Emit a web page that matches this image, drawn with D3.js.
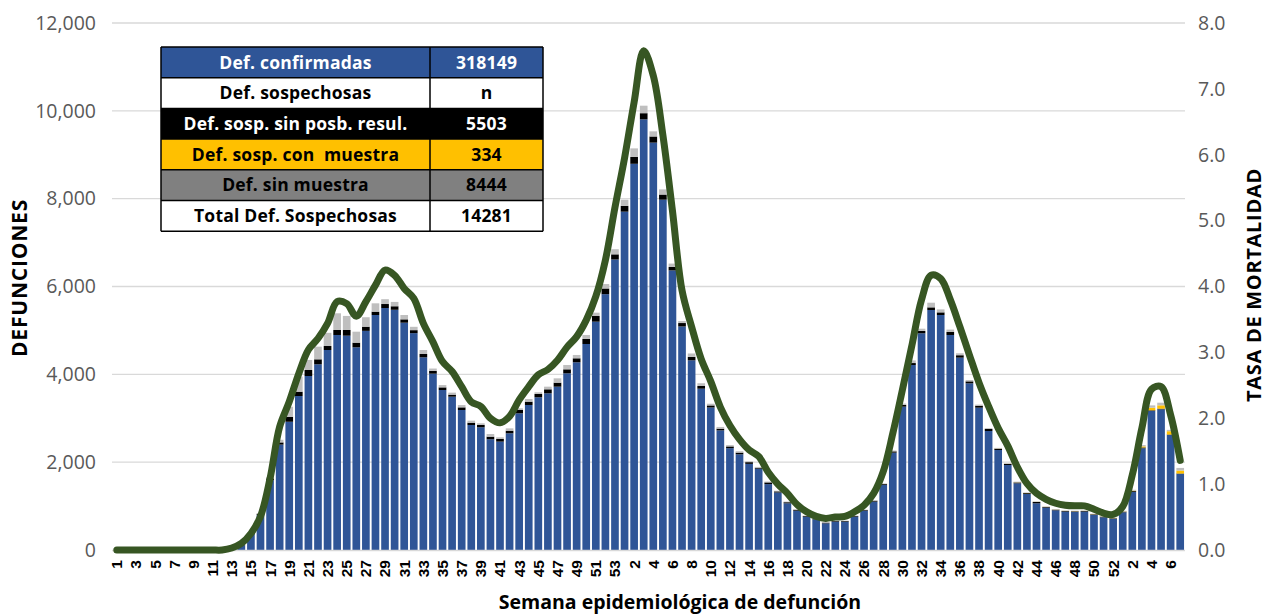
<!DOCTYPE html>
<html><head><meta charset="utf-8">
<script src="https://cdn.jsdelivr.net/npm/d3@7/dist/d3.min.js"></script>
<style>
body{margin:0;background:#fff;}
svg{display:block;font-family:'Open Sans','Noto Sans',sans-serif;}
</style>
</head><body>
<svg id="chart" width="1268" height="614"></svg>
<script>
// ---- DATA ----
const weekLabels = [
 1,2,3,4,5,6,7,8,9,10,11,12,13,14,15,16,17,18,19,20,21,22,23,24,25,26,27,28,29,30,31,32,33,34,35,36,37,38,39,40,41,42,43,44,45,46,47,48,49,50,51,52,53,
 1,2,3,4,5,6,7,8,9,10,11,12,13,14,15,16,17,18,19,20,21,22,23,24,25,26,27,28,29,30,31,32,33,34,35,36,37,38,39,40,41,42,43,44,45,46,47,48,49,50,51,52,
 1,2,3,4,5,6,7];

const confirmadas = [
 0,0,0,0,0,0,0,0,0,0,0,0,20,110,380,800,1590,2400,2920,3506,3962,4228,4554,4896,4880,4615,4990,5351,5510,5470,5176,4938,4387,4015,3643,3491,3188,2846,2794,2521,2468,2657,3112,3302,3477,3568,3719,4023,4274,4691,5199,5825,6615,
 7704,8794,9806,9276,7977,6366,5090,4319,3673,3245,2724,2319,2179,1961,1852,1500,1310,1063,895,759,698,607,645,645,759,895,1101,1480,2216,3264,4212,4934,5465,5351,4896,4380,3795,3241,2710,2277,1935,1518,1275,1063,964,903,873,865,873,797,744,706,
 858,1321,2315,3165,3203,2619,1731];

const sinPosibResultado = [
 0,0,0,0,0,0,0,0,0,0,0,0,0,5,10,20,40,50,114,99,137,114,91,114,130,106,95,76,91,80,76,68,76,62,60,46,60,53,53,60,60,60,76,76,76,91,91,91,91,114,129,130,117,
 132,156,140,140,117,78,78,78,62,47,39,39,39,39,20,39,25,25,20,15,15,15,15,15,15,15,20,20,30,40,45,55,60,60,70,55,45,45,45,30,25,20,20,30,15,15,15,15,15,15,15,15,
 15,20,20,15,15,10,10];

const conMuestra = [
 0,0,0,0,0,0,0,0,0,0,0,0,0,0,0,0,0,0,0,0,0,0,0,0,0,0,0,0,0,0,0,0,0,0,0,0,0,0,0,0,0,0,0,0,0,0,0,0,0,0,0,0,0,
 0,0,0,0,0,0,0,0,0,0,0,0,0,0,0,0,0,0,0,0,0,0,0,0,0,0,0,0,0,0,0,0,0,0,0,0,0,0,0,3,3,3,3,3,3,3,3,3,3,3,3,3,
 5,10,25,60,76,76,68];

const sinMuestra = [
 0,0,0,0,0,0,0,0,0,0,0,0,0,0,0,20,30,60,228,342,228,288,300,380,320,250,215,190,110,99,99,76,91,55,53,46,53,46,38,60,38,53,38,60,38,60,99,99,76,91,76,101,117,
 140,195,171,117,117,78,47,78,62,39,39,31,31,20,20,20,15,15,10,10,10,10,10,10,10,10,12,15,20,30,60,50,106,68,53,45,30,25,20,15,15,15,12,12,12,12,12,12,12,12,12,12,
 15,20,30,53,60,30,60];

const tasaMortalidad = [
 0,0,0,0,0,0,0,0,0,0,0,0,0.03,0.10,0.25,0.51,1.09,1.87,2.25,2.68,3.04,3.21,3.44,3.77,3.74,3.55,3.77,4.02,4.25,4.17,3.97,3.82,3.44,3.16,2.86,2.71,2.48,2.25,2.18,2.00,1.93,2.03,2.28,2.48,2.66,2.74,2.88,3.08,3.24,3.49,3.85,4.40,5.20,
 5.95,6.80,7.58,7.20,6.30,5.15,3.94,3.39,2.90,2.56,2.17,1.89,1.68,1.52,1.42,1.18,1.00,0.86,0.69,0.58,0.51,0.48,0.50,0.51,0.58,0.68,0.86,1.19,1.77,2.43,3.11,3.80,4.17,4.12,3.80,3.39,2.96,2.54,2.18,1.85,1.58,1.26,1.01,0.86,0.77,0.71,0.68,0.67,0.67,0.62,0.56,0.54,
 0.66,1.14,1.85,2.44,2.48,2.05,1.36];

const leftTicks = [0,2000,4000,6000,8000,10000,12000];
const rightTicks = [0,1,2,3,4,5,6,7,8];

const tableLabels = ["Def. confirmadas","Def. sospechosas","Def. sosp. sin posb. resul.","Def. sosp. con  muestra","Def. sin muestra","Total Def. Sospechosas"];
const tableValues = ["318149","n","5503","334","8444","14281"];

// ---- STYLE / LAYOUT ----
const seriesKeys = ["confirmadas","sinPosib","conMuestra","sinMuestra"];
const seriesColors = {confirmadas:"#2F5597", sinPosib:"#000000", conMuestra:"#FFC000", sinMuestra:"#BFBFBF"};
const tableFills = ["#2F5597","#FFFFFF","#000000","#FFC000","#808080","#FFFFFF"];
const tableText = ["#FFFFFF","#000000","#FFFFFF","#000000","#000000","#000000"];

const m = {left:112, right:1185, top:23, bottom:550};
const svg = d3.select("#chart");

const rows = weekLabels.map((w,i)=>({
  i, week:w,
  confirmadas:confirmadas[i], sinPosib:sinPosibResultado[i],
  conMuestra:conMuestra[i], sinMuestra:sinMuestra[i], tasa:tasaMortalidad[i]
}));

const x = d3.scaleBand().domain(rows.map(d=>d.i)).range([m.left, m.right]).paddingInner(0.2).paddingOuter(0.1);
const yL = d3.scaleLinear().domain([0,12000]).range([m.bottom, m.top]);
const yR = d3.scaleLinear().domain([0,8]).range([m.bottom, m.top]);

// gridlines
svg.append("g").selectAll("line").data(leftTicks.slice(1)).join("line")
  .attr("x1", m.left).attr("x2", m.right)
  .attr("y1", d=>yL(d)).attr("y2", d=>yL(d))
  .attr("stroke","#D9D9D9").attr("stroke-width",1.3);

// stacked bars
const stack = d3.stack().keys(seriesKeys)(rows);
svg.append("g").selectAll("g").data(stack).join("g")
  .attr("fill", s=>seriesColors[s.key])
  .selectAll("rect").data(s=>s).join("rect")
  .attr("x", d=>x(d.data.i)).attr("width", x.bandwidth())
  .attr("y", d=>yL(d[1])).attr("height", d=>Math.max(0, yL(d[0])-yL(d[1])));

// baseline
svg.append("line").attr("x1",m.left).attr("x2",m.right)
  .attr("y1",yL(0)+0.5).attr("y2",yL(0)+0.5).attr("stroke","#D9D9D9").attr("stroke-width",1.3);

// line
const line = d3.line().x(d=>x(d.i)+x.bandwidth()/2).y(d=>yR(d.tasa)).curve(d3.curveCatmullRom.alpha(0.5));
svg.append("path").datum(rows).attr("d", line)
  .attr("fill","none").attr("stroke","#375623").attr("stroke-width",7)
  .attr("stroke-linejoin","round").attr("stroke-linecap","round");

// left axis
const axL = svg.append("g").attr("transform",`translate(${m.left-16},0)`)
  .call(d3.axisLeft(yL).tickValues(leftTicks).tickFormat(d3.format(",")).tickSize(0).tickPadding(0));
axL.select(".domain").remove();
axL.selectAll("text").attr("font-size",19.5).attr("fill","#595959").attr("font-family","'Open Sans',sans-serif");

// right axis
const axR = svg.append("g").attr("transform",`translate(${m.right+13},0)`)
  .call(d3.axisRight(yR).tickValues(rightTicks).tickFormat(d3.format(".1f")).tickSize(0).tickPadding(0));
axR.select(".domain").remove();
axR.selectAll("text").attr("font-size",19.5).attr("fill","#595959").attr("font-family","'Open Sans',sans-serif");

// x axis labels
const axX = svg.append("g").attr("transform",`translate(0,${m.bottom+10})`)
  .call(d3.axisBottom(x).tickValues(rows.filter(d=>d.i%2===0).map(d=>d.i)).tickFormat(i=>weekLabels[i]).tickSize(0).tickPadding(0));
axX.select(".domain").remove();
axX.selectAll("text")
  .attr("transform","rotate(-90)").attr("text-anchor","end")
  .attr("x",0).attr("y",0).attr("dy","0.35em")
  .attr("font-size",15.5).attr("font-weight","bold").attr("fill","#000");

// axis titles
svg.append("text").attr("transform",`translate(27,278) rotate(-90)`)
  .attr("text-anchor","middle").attr("font-size",21).attr("font-weight","bold")
  .attr("letter-spacing",0.8).text("DEFUNCIONES");
svg.append("text").attr("transform",`translate(1261,285) rotate(-90)`)
  .attr("text-anchor","middle").attr("font-size",20).attr("font-weight","bold")
  .attr("letter-spacing",0.7).text("TASA DE MORTALIDAD");
svg.append("text").attr("x",680).attr("y",609)
  .attr("text-anchor","middle").attr("font-size",19.5).attr("font-weight","bold").text("Semana epidemiológica de defunción");

// table
const tx0 = 161, tx1 = 430, tx2 = 543, ty0 = 47, rowH = 30.7;
const tg = svg.append("g");
tableLabels.forEach((lab,r)=>{
  const yy = ty0 + r*rowH;
  tg.append("rect").attr("x",tx0).attr("y",yy).attr("width",tx2-tx0).attr("height",rowH).attr("fill",tableFills[r]);
  tg.append("text").attr("x",(tx0+tx1)/2).attr("y",yy+rowH/2).attr("dy","0.36em")
    .attr("text-anchor","middle").attr("font-size",17.5).attr("font-weight","bold")
    .attr("letter-spacing",0.2).attr("fill",tableText[r]).attr("xml:space","preserve").text(lab);
  tg.append("text").attr("x",(tx1+tx2)/2).attr("y",yy+rowH/2).attr("dy","0.36em")
    .attr("text-anchor","middle").attr("font-size",17.5).attr("font-weight","bold")
    .attr("letter-spacing",0.2).attr("fill",tableText[r]).text(tableValues[r]);
});
for(let r=0;r<=tableLabels.length;r++){
  tg.append("line").attr("x1",tx0).attr("x2",tx2).attr("y1",ty0+r*rowH).attr("y2",ty0+r*rowH).attr("stroke","#000").attr("stroke-width",1.5);
}
[tx0,tx1,tx2].forEach(xx=>tg.append("line").attr("x1",xx).attr("x2",xx).attr("y1",ty0).attr("y2",ty0+rowH*tableLabels.length).attr("stroke","#000").attr("stroke-width",1.5));
</script>
</body></html>
